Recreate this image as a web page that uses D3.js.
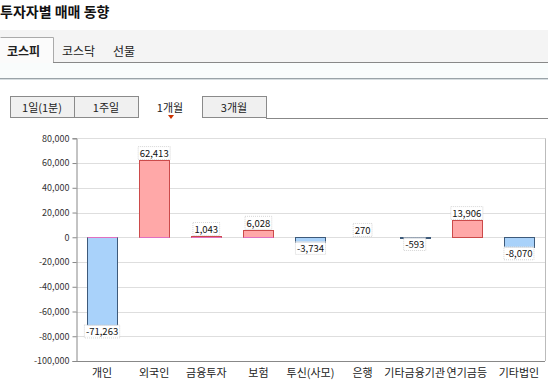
<!DOCTYPE html>
<html><head><meta charset="utf-8">
<script src="https://cdn.jsdelivr.net/npm/d3@7"></script>
<style>
html,body{margin:0;padding:0;background:#fff;}
svg{display:block;font-family:"Noto Sans CJK KR","Noto Sans",sans-serif;}
</style></head>
<body>
<svg id="c" width="548" height="382"></svg>
<script>
const categories = ["개인","외국인","금융투자","보험","투신(사모)","은행","기타금융기관","연기금등","기타법인"];
const values = [-71263, 62413, 1043, 6028, -3734, 270, -593, 13906, -8070];
const yTicks = [80000,60000,40000,20000,0,-20000,-40000,-60000,-80000,-100000];
const marketTabs = ["코스피","코스닥","선물"];
const periodTabs = ["1일(1분)","1주일","1개월","3개월"];
const title = "투자자별 매매 동향";

const svg = d3.select("#c");
const fmt = d3.formatLocale({decimal:".",thousands:",",grouping:[3],currency:["",""],minus:"-"}).format(",");

// header backgrounds
svg.append("rect").attr("x",0).attr("y",0).attr("width",548).attr("height",62).attr("fill","#ffffff");
svg.append("rect").attr("x",0).attr("y",30).attr("width",548).attr("height",32).attr("fill","#f4f4f4");
svg.append("text").attr("x",0).attr("y",17).attr("font-size",14).attr("font-weight","bold").attr("fill","#111").text(title);

// market tabs
svg.append("rect").attr("x",0).attr("y",37).attr("width",53).attr("height",26).attr("fill","#fbfbfb");
svg.append("path").attr("d","M0.5,37.5H53.5V62").attr("stroke","#aaa").attr("fill","none");
svg.append("line").attr("x1",53).attr("x2",548).attr("y1",62.5).attr("y2",62.5).attr("stroke","#888");
svg.append("rect").attr("x",0).attr("y",63).attr("width",548).attr("height",15).attr("fill","#f9fcfc");
svg.append("line").attr("x1",0).attr("x2",548).attr("y1",78.5).attr("y2",78.5).attr("stroke","#9aa3a8");
svg.append("line").attr("x1",0).attr("x2",548).attr("y1",79.5).attr("y2",79.5).attr("stroke","#d6dde0");
const mtx = [7, 62, 113];
marketTabs.forEach((t,i)=>{
  svg.append("text").attr("x",mtx[i]).attr("y",56).attr("font-size",12)
    .attr("font-weight", i===0?"bold":"normal").attr("fill","#222").text(t);
});

// period tabs
const ptx = [10,74,138,202,266];
periodTabs.forEach((t,i)=>{
  const x0 = ptx[i], x1 = ptx[i+1];
  if (i!==2) {
    svg.append("rect").attr("x",x0+0.5).attr("y",96.5).attr("width",x1-x0).attr("height",21)
      .attr("fill","#f0f0f0").attr("stroke","#8a8a8a");
  }
  svg.append("text").attr("x",(x0+x1)/2).attr("y",112).attr("text-anchor","middle")
    .attr("font-size",11).attr("fill","#222").text(t);
});
svg.append("line").attr("x1",266).attr("x2",548).attr("y1",118.5).attr("y2",118.5).attr("stroke","#888");
svg.append("path").attr("d","M168,115L174,115L171,119Z").attr("fill","#cc3300");

// chart
const L = 76, R = 545, T = 138.3, B = 361;
const y = d3.scaleLinear().domain([-100000,80000]).range([B,T]);
const x = d3.scaleBand().domain(categories).range([L,R]).paddingInner(0.42).paddingOuter(0.21);

const g = svg.append("g");
g.selectAll("line.grid").data(yTicks).join("line").attr("class","grid")
  .attr("x1",L).attr("x2",R).attr("y1",d=>Math.round(y(d))+0.5).attr("y2",d=>Math.round(y(d))+0.5)
  .attr("stroke","#dedede");
g.append("line").attr("x1",R+0.5).attr("x2",R+0.5).attr("y1",T).attr("y2",B).attr("stroke","#bbb");

const yAxis = d3.axisLeft(y).tickValues(yTicks).tickSize(4).tickPadding(3).tickFormat(d=>fmt(d));
const ya = svg.append("g").attr("transform",`translate(${L+0.5},0)`).call(yAxis);
ya.select(".domain").attr("stroke","#888");
ya.selectAll(".tick line").attr("stroke","#888");
ya.selectAll(".tick text").attr("font-size",9).attr("fill","#333").attr("font-family","Noto Sans CJK KR, sans-serif");

const xAxis = d3.axisBottom(x).tickSize(0).tickPadding(8);
const xa = svg.append("g").attr("transform",`translate(0,${B+0.5})`).call(xAxis);
xa.select(".domain").attr("stroke","#888").attr("d",`M${L},0H${R}`);
xa.selectAll(".tick text").attr("font-size",11).attr("fill","#222").attr("font-family","Noto Sans CJK KR, sans-serif");

// bars
const bars = g.selectAll("rect.bar").data(values).join("rect").attr("class","bar")
  .attr("x",(d,i)=>Math.round(x(categories[i]))+0.5)
  .attr("width",Math.round(x.bandwidth()))
  .attr("y",d=>Math.round(y(Math.max(0,d)))+0.5)
  .attr("height",d=>Math.round(Math.abs(y(d)-y(0))))
  .attr("fill",d=>d>=0?"#ffa8a8":"#a9d2fa")
  .attr("stroke",d=>d>=0?"#cc4a4a":"#3d5a7a")
  .attr("stroke-opacity",d=>Math.round(Math.abs(y(d)-y(0)))<1?0:1);
// pink zero line on top of negative bars
g.selectAll("line.z").data(values).join("line").attr("class","z")
  .filter(d=>d<0)
  .attr("x1",(d,i)=>Math.round(x(categories[i]))+0.5)
  .attr("x2",(d,i)=>Math.round(x(categories[i]))+0.5+Math.round(x.bandwidth()))
  .attr("y1",Math.round(y(0))+0.5).attr("y2",Math.round(y(0))+0.5)
  .attr("stroke","#e070c0");

// value labels
const lbl = g.selectAll("g.lbl").data(values).join("g").attr("class","lbl");
lbl.each(function(d,i){
  const cx = x(categories[i]) + x.bandwidth()/2;
  const base = d>=0 ? y(d) - 3 : y(d) + 10;
  const sel = d3.select(this);
  const t = sel.append("text").attr("x",cx).attr("y",base).attr("text-anchor","middle")
    .attr("font-size",9.5).attr("fill","#111").text(fmt(d));
  const bb = t.node().getBBox();
  sel.insert("rect","text").attr("x",bb.x-1.5).attr("y",bb.y+0.5).attr("width",bb.width+3).attr("height",bb.height-1)
    .attr("fill","#fff").attr("fill-opacity",0.85).attr("stroke","#bbb").attr("stroke-dasharray","1,1").attr("stroke-width",0.6);
});
</script>
</body></html>
